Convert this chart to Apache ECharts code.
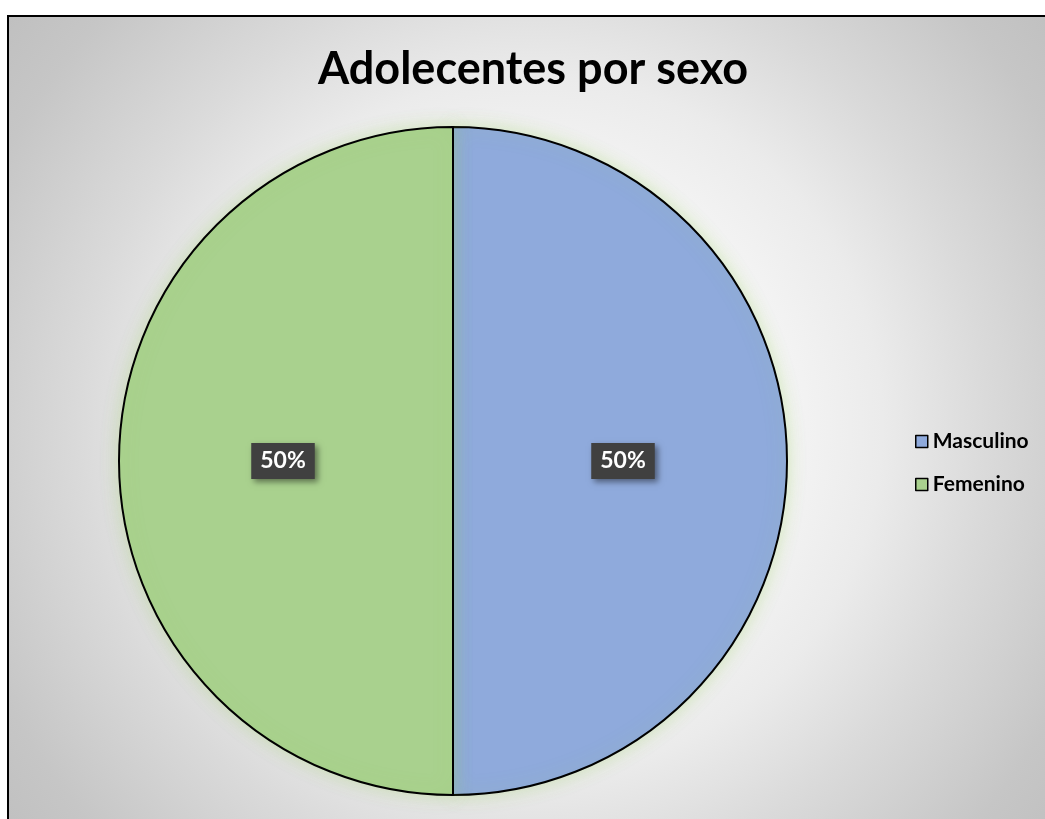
<!DOCTYPE html>
<html>
<head>
<meta charset="utf-8">
<script src="https://cdn.jsdelivr.net/npm/echarts@6/dist/echarts.min.js"></script>
<style>
  html, body { margin: 0; padding: 0; background: #ffffff; }
  #chart { width: 1045px; height: 819px; }
</style>
</head>
<body>
<div id="chart"></div>
<script>
// Adolescents by sex
const titleText = 'Adolecentes por sexo';
const categories = ['Masculino', 'Femenino'];
const values = [50, 50];
const sliceColors = ['#8faadc', '#a9d18e'];

const FONT = 'Lato, "Open Sans", sans-serif';

const chart = echarts.init(document.getElementById('chart'), null, { renderer: 'canvas' });

chart.setOption({
  animation: false,
  backgroundColor: '#ffffff',
  graphic: [
    {
      type: 'rect',
      z: -10,
      silent: true,
      shape: { x: 8, y: 16, width: 1050, height: 820 },
      style: {
        fill: {
          type: 'radial', x: 0.5, y: 0.5, r: 0.85,
          colorStops: [
            { offset: 0, color: '#ffffff' },
            { offset: 0.3, color: '#f8f8f8' },
            { offset: 0.5, color: '#ebebeb' },
            { offset: 0.65, color: '#dadada' },
            { offset: 0.85, color: '#c6c6c6' },
            { offset: 1, color: '#bdbdbd' }
          ]
        },
        stroke: '#000000',
        lineWidth: 2
      }
    }
  ],
  title: {
    text: titleText,
    left: 528,
    textAlign: 'center',
    top: 42,
    textStyle: { fontFamily: FONT, fontWeight: 'bold', fontSize: 45, color: '#000000' }
  },
  legend: {
    orient: 'vertical',
    left: 910,
    top: 426,
    itemWidth: 12,
    itemHeight: 12,
    itemGap: 22,
    icon: 'rect',
    data: categories,
    itemStyle: { borderColor: '#000000', borderWidth: 1.5 },
    textStyle: { fontFamily: FONT, fontWeight: 'bold', fontSize: 21, color: '#000000', padding: [0, 0, 0, 0] }
  },
  series: [
    {
      type: 'pie',
      center: [453, 461],
      radius: [0, 334],
      startAngle: 90,
      clockwise: true,
      data: categories.map((name, i) => ({
        name,
        value: values[i],
        itemStyle: { color: sliceColors[i] }
      })),
      itemStyle: {
        borderColor: '#000000',
        borderWidth: 2,
        shadowColor: 'rgba(146, 208, 80, 0.35)',
        shadowBlur: 18
      },
      label: {
        show: true,
        position: 'inside',
        formatter: (p) => Math.round(p.percent) + '%',
        fontFamily: FONT,
        fontWeight: 'bold',
        fontSize: 23,
        color: '#ffffff',
        backgroundColor: '#404040',
        padding: [7, 9, 6, 9],
        shadowColor: 'rgba(0,0,0,0.45)',
        shadowBlur: 6,
        shadowOffsetX: 3,
        shadowOffsetY: 3
      },
      labelLine: { show: false },
      emphasis: { disabled: true }
    }
  ]
});
</script>
</body>
</html>
